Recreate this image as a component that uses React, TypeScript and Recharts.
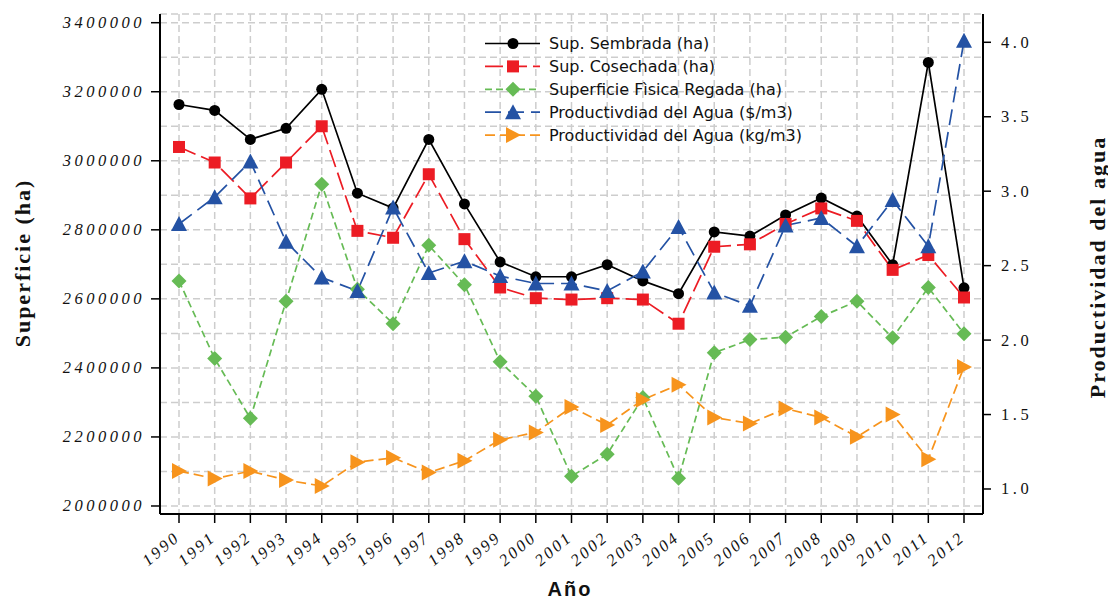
import React from "react";
import { LineChart, Line, XAxis, YAxis, CartesianGrid, Legend } from "recharts";

const years = [
  "1990", "1991", "1992", "1993", "1994", "1995", "1996", "1997", "1998", "1999", "2000", "2001",
  "2002", "2003", "2004", "2005", "2006", "2007", "2008", "2009", "2010", "2011", "2012",
];

const supSembrada = [
  3163000, 3146000, 3062000, 3094000, 3207000, 2906000, 2863000, 3062000, 2875000, 2707000, 2664000, 2664000,
  2699000, 2652000, 2615000, 2794000, 2782000, 2843000, 2892000, 2840000, 2699000, 3285000, 2632000,
];

const supCosechada = [
  3040000, 2995000, 2891000, 2995000, 3100000, 2797000, 2777000, 2961000, 2773000, 2633000, 2602000, 2598000,
  2602000, 2598000, 2528000, 2751000, 2758000, 2817000, 2862000, 2826000, 2684000, 2727000, 2604000,
];

const supFisicaRegada = [
  2652000, 2427000, 2254000, 2593000, 2932000, 2628000, 2528000, 2755000, 2641000, 2418000, 2318000, 2086000,
  2150000, 2314000, 2080000, 2444000, 2482000, 2489000, 2549000, 2593000, 2487000, 2633000, 2499000,
];

const prodAguaPesos = [
  2.78, 2.96, 3.2, 2.66, 2.42, 2.33, 2.89, 2.45, 2.53, 2.43, 2.38, 2.38,
  2.33, 2.46, 2.76, 2.32, 2.23, 2.77, 2.82, 2.63, 2.94, 2.63, 4.01,
];

const prodAguaKg = [
  1.12, 1.07, 1.12, 1.06, 1.02, 1.18, 1.21, 1.11, 1.19, 1.33, 1.38, 1.55,
  1.43, 1.6, 1.7, 1.48, 1.44, 1.54, 1.48, 1.35, 1.5, 1.2, 1.82,
];

// every 100000 gets a grid line, only the even ones get a label
const leftTicks = [
  2000000, 2100000, 2200000, 2300000, 2400000, 2500000, 2600000, 2700000,
  2800000, 2900000, 3000000, 3100000, 3200000, 3300000, 3400000,
];
const leftLabels = [2000000, 2200000, 2400000, 2600000, 2800000, 3000000, 3200000, 3400000];
const rightTicks = [1.0, 1.5, 2.0, 2.5, 3.0, 3.5, 4.0];

const data = years.map((year, i) => ({
  year,
  sembrada: supSembrada[i],
  cosechada: supCosechada[i],
  fisica: supFisicaRegada[i],
  pesos: prodAguaPesos[i],
  kg: prodAguaKg[i],
}));

const series = [
  { key: "sembrada", name: "Sup. Sembrada (ha)", color: "#000000", dash: undefined, marker: "circle", axis: "left" },
  { key: "cosechada", name: "Sup. Cosechada (ha)", color: "#ec1c24", dash: "18 6", marker: "square", axis: "left" },
  { key: "fisica", name: "Superficie Fìsica Regada (ha)", color: "#66bb55", dash: "7 4", marker: "diamond", axis: "left" },
  { key: "pesos", name: "Productivdiad del Agua ($/m3)", color: "#2452a4", dash: "16 7", marker: "triangleUp", axis: "right" },
  { key: "kg", name: "Productividad del Agua (kg/m3)", color: "#f7941d", dash: "10 5", marker: "triangleRight", axis: "right" },
];

const PLOT_LEFT = 160;
const PLOT_RIGHT = 983;
const SERIF = "'Liberation Serif', 'Times New Roman', serif";

function Marker({ shape, cx, cy, color }: { shape: string; cx: number; cy: number; color: string }) {
  if (cx == null || cy == null) return null;
  switch (shape) {
    case "circle":
      return <circle cx={cx} cy={cy} r={5.5} fill={color} />;
    case "square":
      return <rect x={cx - 6} y={cy - 6} width={12} height={12} fill={color} />;
    case "diamond":
      return <polygon points={`${cx},${cy - 7.5} ${cx + 7.5},${cy} ${cx},${cy + 7.5} ${cx - 7.5},${cy}`} fill={color} />;
    case "triangleUp":
      return <polygon points={`${cx},${cy - 8} ${cx + 8},${cy + 7} ${cx - 8},${cy + 7}`} fill={color} />;
    default:
      return <polygon points={`${cx + 8},${cy} ${cx - 7},${cy - 8} ${cx - 7},${cy + 8}`} fill={color} />;
  }
}

const LeftTick = (props: any) => {
  const { y, payload } = props;
  if (!leftLabels.includes(payload.value)) return null;
  return (
    <g>
      <line x1={PLOT_LEFT - 9} x2={PLOT_LEFT} y1={y} y2={y} stroke="#000" strokeWidth={1.5} />
      <text x={PLOT_LEFT - 15} y={y} textAnchor="end" dominantBaseline="central" fontFamily={SERIF}
        fontStyle="italic" fontSize={16.5} letterSpacing={3.5} fill="#111">
        {payload.value}
      </text>
    </g>
  );
};

const RightTick = (props: any) => {
  const { y, payload } = props;
  return (
    <text x={PLOT_RIGHT + 18} y={y} textAnchor="start" dominantBaseline="central" fontFamily={SERIF}
      fontSize={16.5} letterSpacing={3.5} fill="#111">
      {Number(payload.value).toFixed(1)}
    </text>
  );
};

const YearTick = (props: any) => {
  const { x, y, payload } = props;
  const ex = x + 2;
  const ey = y + 14;
  return (
    <text x={ex} y={ey} textAnchor="end" transform={`rotate(-40 ${ex} ${ey})`} fontFamily={SERIF}
      fontStyle="italic" fontSize={16.5} letterSpacing={2.5} fill="#111">
      {payload.value}
    </text>
  );
};

const renderLegend = () => (
  <svg width={345} height={120} style={{ display: "block", overflow: "visible" }}>
    {series.map((s, i) => {
      const y = 13.5 + i * 22.9;
      return (
        <g key={s.key}>
          <line x1={5} x2={60} y1={y} y2={y} stroke={s.color} strokeWidth={1.7} strokeDasharray={s.dash} />
          <Marker shape={s.marker} cx={33} cy={y} color={s.color} />
          <text x={69} y={y} dominantBaseline="central" fontFamily="'DejaVu Sans', sans-serif" fontSize={16} fill="#111">
            {s.name}
          </text>
        </g>
      );
    })}
  </svg>
);

export default function App() {
  return (
    <div style={{ position: "absolute", left: 0, top: 0, width: 1108, height: 601, background: "#fff" }}>
      <LineChart width={1108} height={601} data={data} margin={{ top: 14, right: 0, bottom: 0, left: 0 }}>
        <CartesianGrid yAxisId="left" stroke="#cdcdcd" strokeWidth={1.5} strokeDasharray="7 4" />
        <XAxis
          dataKey="year"
          height={87}
          padding={{ left: 19, right: 19 }}
          interval={0}
          tickSize={9}
          tickLine={{ stroke: "#000", strokeWidth: 1.5 }}
          axisLine={{ stroke: "#000", strokeWidth: 2 }}
          tick={<YearTick />}
          label={() => (
            <text x={570} y={596} textAnchor="middle" fontFamily="'Liberation Sans', Arial, sans-serif"
              fontWeight="bold" fontSize={20} letterSpacing={2} fill="#111">
              Año
            </text>
          )}
        />
        <XAxis xAxisId="top" dataKey="year" orientation="top" height={0} tick={false} tickLine={false}
          axisLine={{ stroke: "#000", strokeWidth: 2 }} />
        <YAxis
          yAxisId="left"
          width={PLOT_LEFT}
          domain={[1976800, 3425200]}
          allowDataOverflow
          ticks={leftTicks}
          interval={0}
          tickLine={false}
          axisLine={{ stroke: "#000", strokeWidth: 2 }}
          tick={<LeftTick />}
          label={() => (
            <text x={22} y={263} textAnchor="middle" dominantBaseline="central" transform="rotate(-90 22 263)"
              fontFamily={SERIF} fontWeight="bold" fontSize={22} letterSpacing={2} fill="#111">
              Superficie (ha)
            </text>
          )}
        />
        <YAxis
          yAxisId="right"
          orientation="right"
          width={1108 - PLOT_RIGHT}
          domain={[0.832, 4.19]}
          allowDataOverflow
          ticks={rightTicks}
          interval={0}
          tickSize={8}
          tickLine={{ stroke: "#000", strokeWidth: 1.5 }}
          axisLine={{ stroke: "#000", strokeWidth: 2 }}
          tick={<RightTick />}
          label={() => (
            <text x={1097} y={267} textAnchor="middle" dominantBaseline="central" transform="rotate(-90 1097 267)"
              fontFamily={SERIF} fontWeight="bold" fontSize={22} letterSpacing={2} fill="#111">
              Productividad  del  agua
            </text>
          )}
        />
        <Legend
          layout="vertical"
          verticalAlign="middle"
          align="center"
          content={renderLegend}
          wrapperStyle={{ left: 480, top: 30, width: 345, height: 120 }}
        />
        {series.map((s) => (
          <Line
            key={s.key}
            yAxisId={s.axis}
            dataKey={s.key}
            name={s.name}
            type="linear"
            stroke={s.color}
            strokeWidth={1.7}
            strokeDasharray={s.dash}
            isAnimationActive={false}
            activeDot={false}
            dot={(p: any) => (
              <Marker key={`${s.key}-${p.index}`} shape={s.marker} cx={p.cx} cy={p.cy} color={s.color} />
            )}
          />
        ))}
      </LineChart>
    </div>
  );
}
